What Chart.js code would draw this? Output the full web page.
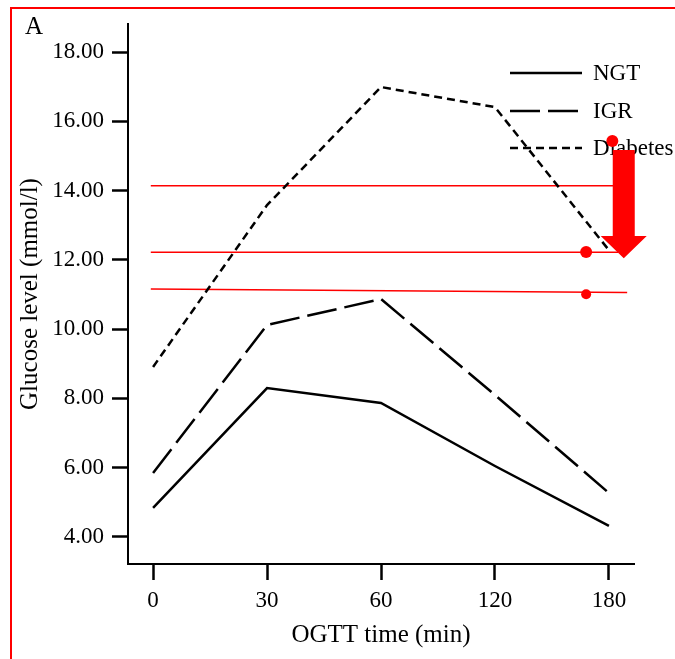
<!DOCTYPE html>
<html>
<head>
<meta charset="utf-8">
<script src="https://cdn.jsdelivr.net/npm/chart.js@4.4.0/dist/chart.umd.min.js"></script>
<style>
  html, body { margin: 0; padding: 0; background: #fff; }
</style>
</head>
<body>
<canvas id="mychart" width="675" height="659"></canvas>
<script>
// OGTT time points and mean glucose per group (mmol/l)
const timeLabels = ['0', '30', '60', '120', '180'];
const ngt = [4.84, 8.30, 7.87, 6.05, 4.32];
const igr = [5.85, 10.12, 10.87, 8.10, 5.27];
const diabetes = [8.91, 13.58, 16.99, 16.41, 12.28];

// red marks added on top of the figure (x = index of time point, y = mmol/l)
const redLineA = [[-0.02, 14.14], [4.04, 14.14]];
const redLineB = [[-0.02, 12.22], [4.08, 12.22]];
const redLineC = [[-0.02, 11.16], [4.16, 11.06]];
const redDotsBig = [[4.03, 15.43], [3.80, 12.23]];
const redDotsSmall = [[3.80, 11.01]];
const arrowX = 4.13, arrowTop = 15.17, arrowBase = 12.69, arrowTip = 12.05;

const serif = "'Liberation Serif', 'Times New Roman', serif";

function toXY(arr) {
    return arr.map(p => ({x: p[0], y: p[1]}));
}
function series(vals) {
    return vals.map((v, i) => ({x: i, y: v}));
}

const decorations = {
    id: 'decorations',
    beforeDraw(chart) {
        const ctx = chart.ctx;
        ctx.save();
        ctx.fillStyle = '#fff';
        ctx.fillRect(0, 0, chart.width, chart.height);
        // red frame (top and left)
        ctx.strokeStyle = '#ff0000';
        ctx.lineWidth = 2;
        ctx.beginPath();
        ctx.moveTo(11, chart.height);
        ctx.lineTo(11, 8);
        ctx.lineTo(chart.width, 8);
        ctx.stroke();
        // panel letter
        ctx.fillStyle = '#000';
        ctx.font = '25px ' + serif;
        ctx.textBaseline = 'alphabetic';
        ctx.fillText('A', 25, 34);
        ctx.restore();
    },
    beforeDatasetsDraw(chart) {
        // legend, drawn by hand so the dashes match
        const ctx = chart.ctx;
        const ys = [73, 111, 148];
        ctx.save();
        ctx.font = '23px ' + serif;
        ctx.textBaseline = 'middle';
        ctx.fillStyle = '#000';
        chart.data.datasets.filter(d => d.inLegend).forEach((d, i) => {
            ctx.strokeStyle = '#000';
            ctx.lineWidth = 2.5;
            ctx.setLineDash(d.borderDash || []);
            ctx.beginPath();
            ctx.moveTo(510, ys[i]);
            ctx.lineTo(582, ys[i]);
            ctx.stroke();
            ctx.fillText(d.label, 593, ys[i] + 1);
        });
        ctx.restore();
    },
    afterDatasetsDraw(chart) {
        // big red arrow pointing down
        const ctx = chart.ctx;
        const xs = chart.scales.x, ysc = chart.scales.y;
        const cx = xs.getPixelForValue(arrowX);
        const top = ysc.getPixelForValue(arrowTop);
        const base = ysc.getPixelForValue(arrowBase);
        const tip = ysc.getPixelForValue(arrowTip);
        ctx.save();
        ctx.fillStyle = '#ff0000';
        ctx.beginPath();
        ctx.moveTo(cx - 11, top);
        ctx.lineTo(cx + 11, top);
        ctx.lineTo(cx + 11, base);
        ctx.lineTo(cx + 23, base);
        ctx.lineTo(cx, tip);
        ctx.lineTo(cx - 23, base);
        ctx.lineTo(cx - 11, base);
        ctx.closePath();
        ctx.fill();
        ctx.restore();
    }
};

const black = '#000';

var ctx = document.getElementById('mychart').getContext('2d');
var chart = new Chart(ctx, {
    type: 'line',
    data: {
        datasets: [
            {label: 'NGT', data: series(ngt), inLegend: true, borderColor: black, borderWidth: 2.5, borderDash: []},
            {label: 'IGR', data: series(igr), inLegend: true, borderColor: black, borderWidth: 2.5, borderDash: [30, 8]},
            {label: 'Diabetes', data: series(diabetes), inLegend: true, borderColor: black, borderWidth: 2.5, borderDash: [8, 5]},
            {label: 'r1', data: toXY(redLineA), borderColor: '#ff0000', borderWidth: 1.5},
            {label: 'r2', data: toXY(redLineB), borderColor: '#ff0000', borderWidth: 1.5},
            {label: 'r3', data: toXY(redLineC), borderColor: '#ff0000', borderWidth: 1.5},
            {label: 'd1', data: toXY(redDotsBig), showLine: false, pointRadius: 6, pointBackgroundColor: '#ff0000', pointBorderWidth: 0},
            {label: 'd2', data: toXY(redDotsSmall), showLine: false, pointRadius: 5, pointBackgroundColor: '#ff0000', pointBorderWidth: 0}
        ]
    },
    options: {
        responsive: false,
        animation: false,
        devicePixelRatio: 1,
        layout: {padding: {top: 24, right: 41, left: 0, bottom: 0}},
        elements: {
            line: {tension: 0, fill: false, borderCapStyle: 'butt'},
            point: {radius: 0, hoverRadius: 0}
        },
        plugins: {
            legend: {display: false},
            tooltip: {enabled: false}
        },
        scales: {
            x: {
                type: 'linear',
                min: -0.22,
                max: 4.22,
                afterFit: function (scale) { scale.height = 95; },
                border: {display: true, color: black, width: 2},
                grid: {drawOnChartArea: false, drawTicks: true, tickLength: 16, tickWidth: 2.5, tickColor: black},
                ticks: {
                    stepSize: 1,
                    includeBounds: false,
                    padding: 7,
                    color: black,
                    font: {family: serif, size: 23},
                    callback: function (v) { return timeLabels[v]; }
                },
                title: {
                    display: true,
                    text: 'OGTT time (min)',
                    color: black,
                    font: {family: serif, size: 25},
                    padding: {top: 0, bottom: 9}
                }
            },
            y: {
                min: 3.22,
                max: 18.81,
                afterFit: function (scale) { scale.width = 128; },
                border: {display: true, color: black, width: 2},
                grid: {drawOnChartArea: false, drawTicks: true, tickLength: 16, tickWidth: 2.5, tickColor: black},
                ticks: {
                    stepSize: 2,
                    includeBounds: false,
                    padding: 8,
                    color: black,
                    font: {family: serif, size: 23},
                    callback: function (v) { return v.toFixed(2); }
                },
                title: {
                    display: true,
                    text: 'Glucose level (mmol/l)',
                    color: black,
                    font: {family: serif, size: 25},
                    padding: {top: 15, bottom: 0}
                }
            }
        }
    },
    plugins: [decorations]
});
</script>
</body>
</html>
